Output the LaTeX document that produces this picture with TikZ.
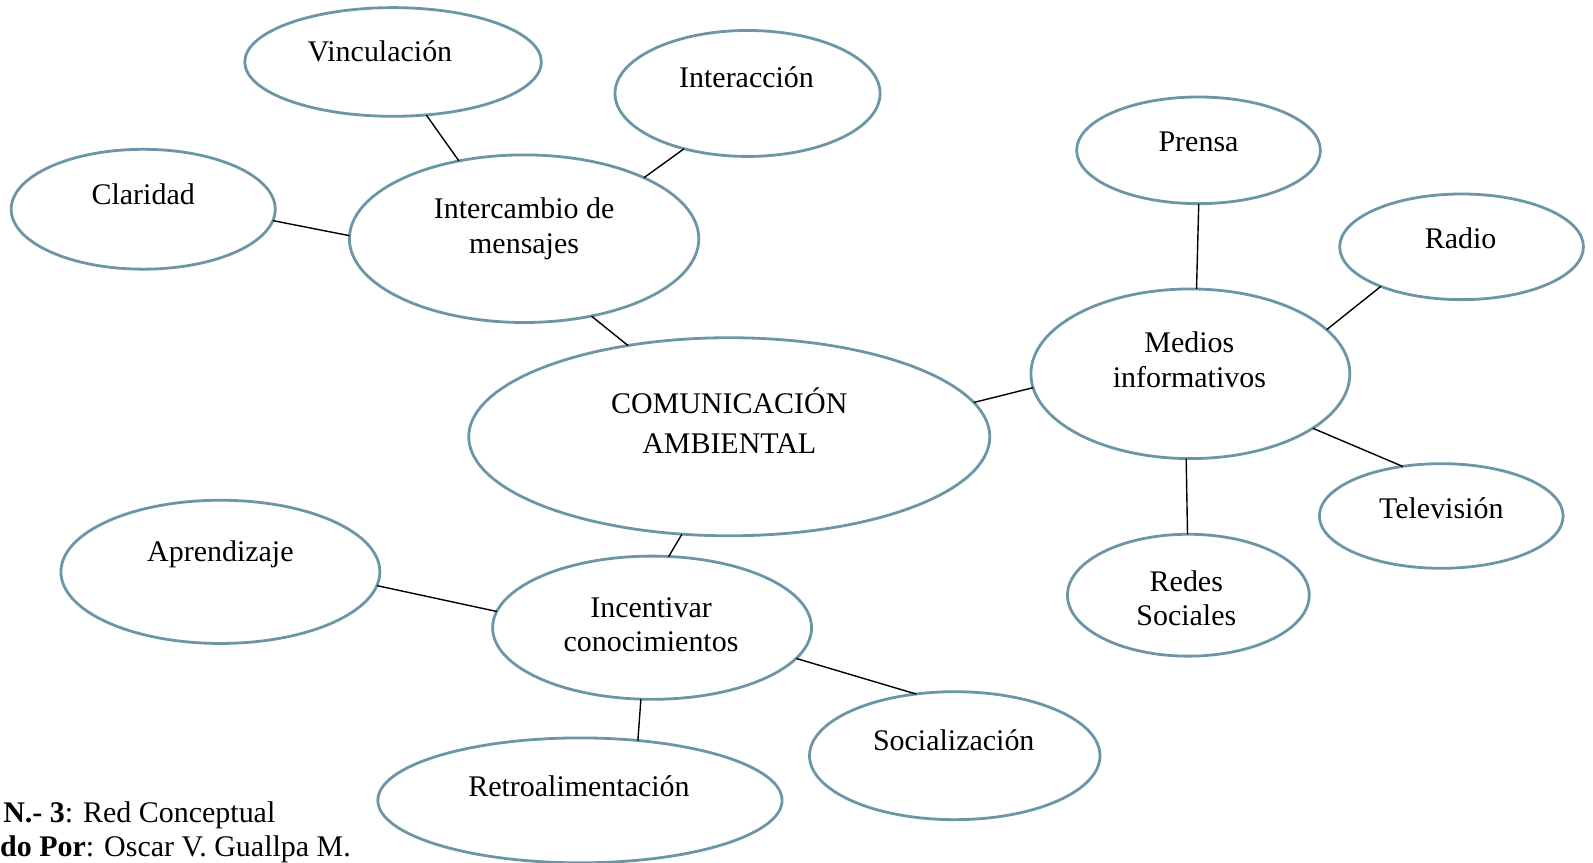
\documentclass[tikz,border=0pt]{standalone}
\usepackage{fontspec}
\setmainfont{Liberation Serif}
\usetikzlibrary{shapes.geometric}
\definecolor{edgeblue}{RGB}{108,150,166}
\tikzset{
  bubble/.style={ellipse, draw=edgeblue, line width=2.8pt, inner sep=0pt, outer sep=0pt},
  lbl/.style={font=\fontsize{29.5}{34}\selectfont, align=center, inner sep=0pt},
  link/.style={draw=black, line width=1.4pt},
  captext/.style={font=\fontsize{29.5}{34}\selectfont, anchor=west, inner sep=0pt}
}
\begin{document}
\begin{tikzpicture}[x=1pt,y=-1pt,scale=1.0157,transform shape]
\useasboundingbox (0,0) rectangle (1568.4,848.7);
% ellipses
\node[bubble, minimum width=292pt, minimum height=107pt] (vinc) at (387,61) {};
\node[bubble, minimum width=261pt, minimum height=124pt] (inter) at (736,92) {};
\node[bubble, minimum width=260pt, minimum height=118pt] (clar) at (141,206) {};
\node[bubble, minimum width=344pt, minimum height=165pt] (intc) at (516,235) {};
\node[bubble, minimum width=513pt, minimum height=195pt] (com) at (718,430) {};
\node[bubble, minimum width=240pt, minimum height=105pt] (pren) at (1180,148) {};
\node[bubble, minimum width=240pt, minimum height=104pt] (radio) at (1439,243) {};
\node[bubble, minimum width=314pt, minimum height=167pt] (med) at (1172,368) {};
\node[bubble, minimum width=240pt, minimum height=103pt] (tele) at (1419,508) {};
\node[bubble, minimum width=238pt, minimum height=120pt] (redes) at (1170,586) {};
\node[bubble, minimum width=314pt, minimum height=141pt] (apr) at (217,563) {};
\node[bubble, minimum width=314pt, minimum height=141pt] (inc) at (642,618) {};
\node[bubble, minimum width=286pt, minimum height=126pt] (soc) at (940,744) {};
\node[bubble, minimum width=398pt, minimum height=123pt] (retro) at (571,788) {};
% labels
\node[lbl] (vinc-t) at (374,51) {Vinculación};
\node[lbl] (inter-t) at (735,76) {Interacción};
\node[lbl] (clar-t) at (141,191) {Claridad};
\node[lbl] (intc-t) at (516,225) {Intercambio de\\mensajes};
\node[lbl] (com-t) at (718,414) {COMUNICACIÓN\\[5pt]AMBIENTAL};
\node[lbl] (pren-t) at (1180,140) {Prensa};
\node[lbl] (radio-t) at (1438,235) {Radio};
\node[lbl] (med-t) at (1171,354) {Medios\\informativos};
\node[lbl] (tele-t) at (1419,500) {Televisión};
\node[lbl] (redes-t) at (1168,589) {Redes\\Sociales};
\node[lbl] (apr-t) at (217,546) {Aprendizaje};
\node[lbl] (inc-t) at (641,615) {Incentivar\\conocimientos};
\node[lbl] (soc-t) at (939,729) {Socialización};
\node[lbl] (retro-t) at (570,774) {Retroalimentación};
% connectors
\draw[link] (vinc.-58) -- (intc.130.5);
\draw[link] (inter.221.6) -- (intc.27.4);
\draw[link] (clar.-5.8) -- (intc.179.7);
\draw[link] (intc.-49.8) -- (com.138.3);
\draw[link] (com.8) -- (med.185.2);
\draw[link] (pren.-90) -- (med.86);
\draw[link] (radio.206.3) -- (med.18.9);
\draw[link] (med.-24.8) -- (tele.128.4);
\draw[link] (med.267) -- (redes.91.9);
\draw[link] (com.244.6) -- (inc.77.6);
\draw[link] (apr.-5.6) -- (inc.174.5);
\draw[link] (inc.-12.9) -- (soc.122.6);
\draw[link] (inc.261.9) -- (retro.46.5);
% caption
\node[captext] (cap1) at (3,803) {\textbf{N.- 3}: Red Conceptual};
\node[captext] (cap2) at (0,836) {\textbf{do Por}: Oscar V. Guallpa M.};
\end{tikzpicture}
\end{document}
